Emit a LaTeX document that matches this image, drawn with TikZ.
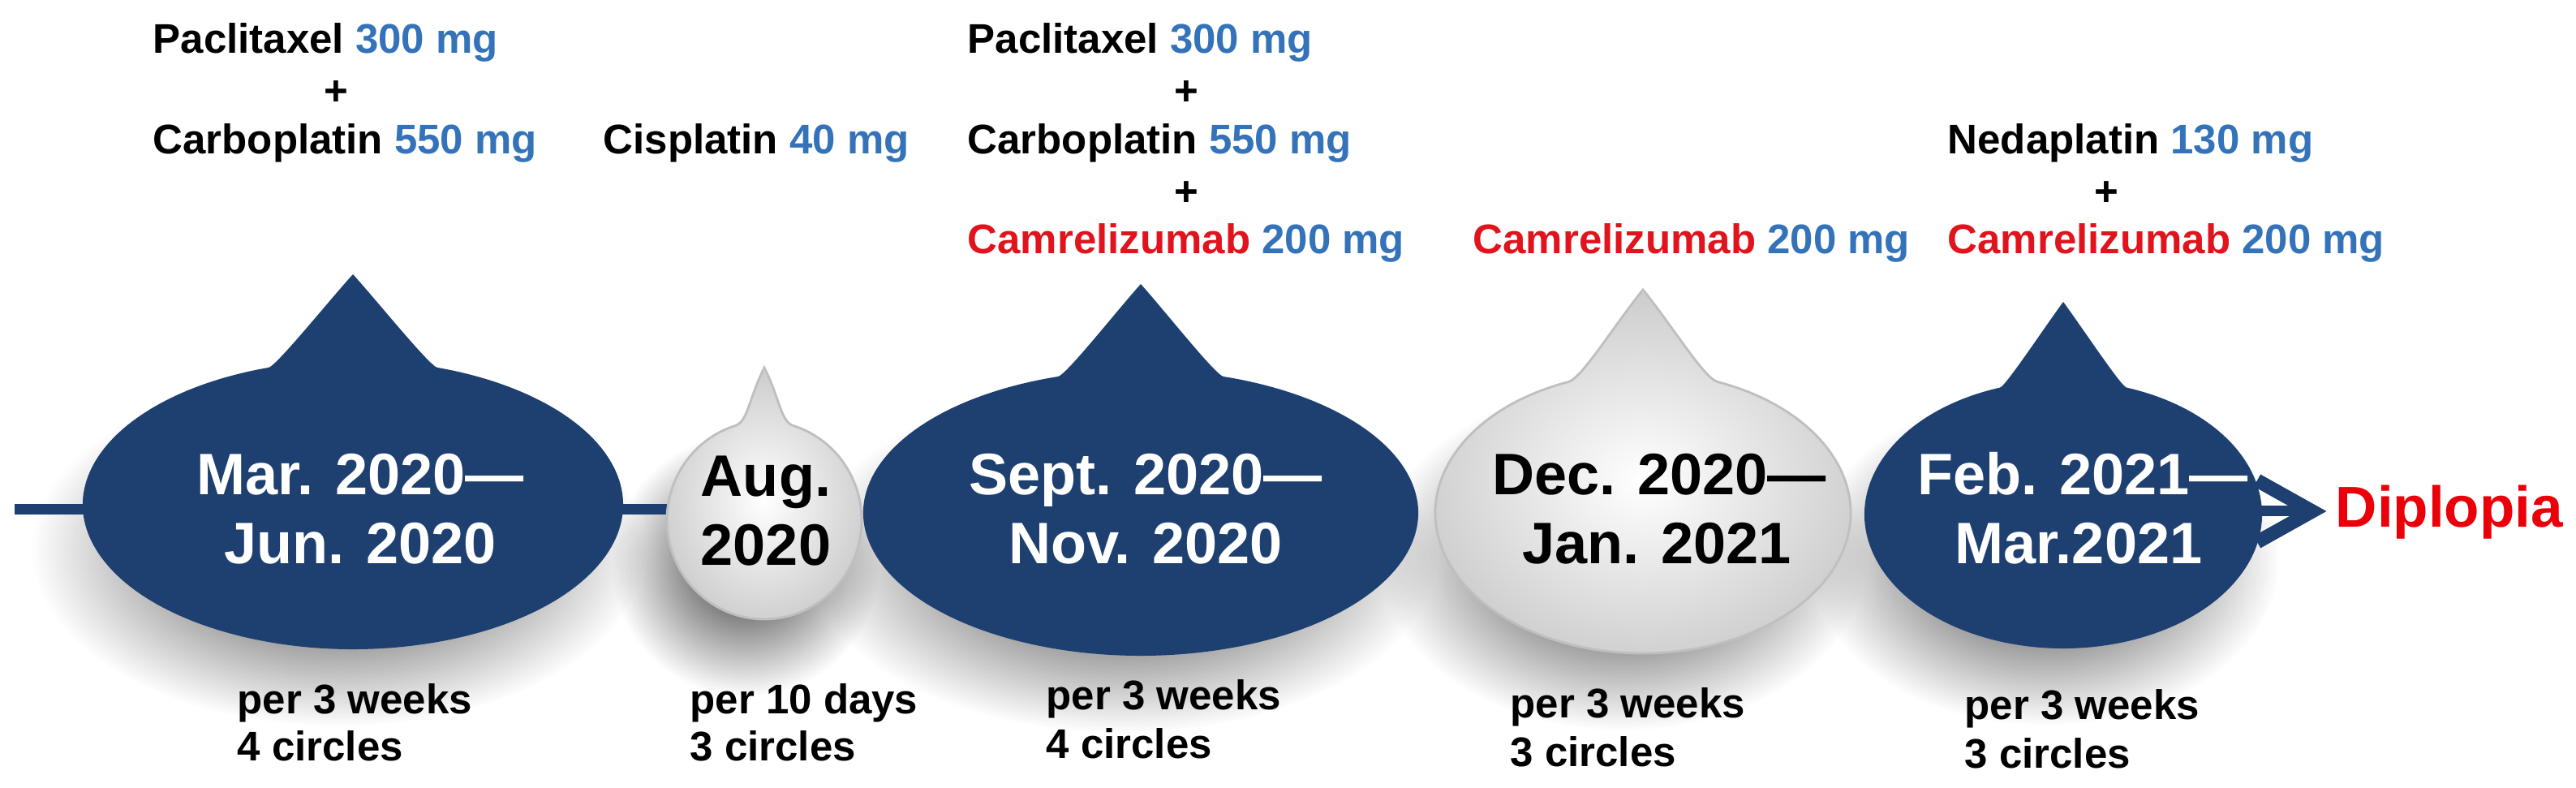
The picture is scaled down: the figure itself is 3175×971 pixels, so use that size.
\documentclass[tikz,border=0pt]{standalone}
\usepackage{fontspec}
\setmainfont{Liberation Sans}
\usetikzlibrary{fadings}
\definecolor{navy}{RGB}{30,64,112}
\definecolor{numblue}{RGB}{52,115,185}
\definecolor{drugred}{RGB}{225,20,30}
\definecolor{diplred}{RGB}{235,0,10}
\tikzfading[name=shadowfade, inner color=transparent!0, outer color=transparent!100]
% cx cy rx ry tipx tipy neck-half-width fillet straightness
\newcommand{\mkdrop}[9]{%
 \pgfmathsetmacro{\dA}{acos(#7/#3)}%
 \pgfmathsetmacro{\dJy}{#2-#4*sin(\dA)}%
 \pgfmathsetmacro{\dJl}{#5-#7}%
 \pgfmathsetmacro{\dJr}{#5+#7}%
 \pgfmathsetmacro{\dTl}{\dJl+#8*#3*sin(\dA)}%
 \pgfmathsetmacro{\dTr}{\dJr-#8*#3*sin(\dA)}%
 \pgfmathsetmacro{\dTy}{\dJy-#8*#4*cos(\dA)}%
 \pgfmathsetmacro{\dCl}{#5+#9*(\dJl-#5)}%
 \pgfmathsetmacro{\dCr}{#5+#9*(\dJr-#5)}%
 \pgfmathsetmacro{\dCy}{#6+#9*(\dJy-#6)}%
 \pgfmathsetmacro{\dSa}{180+\dA}%
 \pgfmathsetmacro{\dEa}{-\dA}%
 \pgfmathsetmacro{\dRa}{#3-(#5-#1)}%
 \edef\dPath{(#5,#6) .. controls (\dCl,\dCy) and (\dTl,\dTy) .. (\dJl,\dJy) arc[start angle=\dSa, end angle=\dEa, x radius=#3, y radius=#4] .. controls (\dTr,\dTy) and (\dCr,\dCy) .. (#5,#6) -- cycle}%
}
\tikzset{
 navydrop/.style={fill=navy},
 lightdrop/.style={inner color=white, outer color=black!20, draw=black!25, line width=0.8pt},
 lbl/.style={inner sep=0pt, anchor=base west, font=\fontsize{14.5}{17}\selectfont\bfseries},
 plus/.style={inner sep=0pt, anchor=base, font=\fontsize{14.5}{17}\selectfont\bfseries},
 datew/.style={inner sep=0pt, anchor=base, text=white, font=\fontsize{20.5}{24}\selectfont\bfseries},
 dateb/.style={inner sep=0pt, anchor=base, text=black, font=\fontsize{20.5}{24}\selectfont\bfseries},
 diplo/.style={inner sep=0pt, anchor=base west, text=diplred, font=\fontsize{20.2}{24}\selectfont\bfseries},
 shadowblob/.style={fill=black!80, path fading=shadowfade}
}
\newcommand{\bl}[1]{\textcolor{numblue}{#1}}
\newcommand{\rd}[1]{\textcolor{drugred}{#1}}
\begin{document}
\begin{tikzpicture}[x=0.01cm, y=-0.01cm]
\useasboundingbox (0,0) rectangle (3175,971);
% soft shadows
\foreach \cx/\cy/\rx/\ry in {442/622/333/178, 944/641/120/122, 1408/632/342/176, 2025/632/256/173, 2545/634/245/165}
 \path[shadowblob] (\cx-25,\cy+55) ellipse [x radius=\rx+45, y radius=\ry+40];
% timeline
\coordinate (tlstart) at (18,628);
\coordinate (tlmid) at (944,628);
\coordinate (tlresume) at (2600,630);
\coordinate (tlend) at (2850,630);
\coordinate (arU) at (2782,592);
\coordinate (arD) at (2782,668);
\draw[navy, line width=0.13cm] (tlstart) -- (tlmid);
\draw[navy, line width=0.13cm] (tlresume) -- (tlend);
\draw[navy, line width=0.17cm, miter limit=10] (arU) -- (tlend) -- (arD);
% drops
\mkdrop{442}{622}{333}{178}{435}{338}{104}{0.03}{0.3}
\path[navydrop] \dPath;
\mkdrop{944}{641}{120}{122}{942}{453}{36}{0.14}{0.55}
\shade[lightdrop] \dPath;
\mkdrop{1408}{632}{342}{176}{1406}{350}{102}{0.03}{0.3}
\path[navydrop] \dPath;
\mkdrop{2025}{632}{256}{173}{2025}{357}{92}{0.07}{0.4}
\shade[lightdrop] \dPath;
\mkdrop{2545}{634}{245}{165}{2543}{372}{78}{0.03}{0.3}
\path[navydrop] \dPath;
% dates
\node[datew] (d1a) at (444,610) {Mar. 2020—};
\node[datew] (d1b) at (444,695) {Jun. 2020};
\node[dateb] (d2a) at (944,612) {Aug.};
\node[dateb] (d2b) at (944,697) {2020};
\node[datew] (d3a) at (1412,610) {Sept. 2020—};
\node[datew] (d3b) at (1412,695) {Nov. 2020};
\node[dateb] (d4a) at (2045,610) {Dec. 2020—};
\node[dateb] (d4b) at (2042,695) {Jan. 2021};
\node[datew] (d5a) at (2567,610) {Feb. 2021—};
\node[datew] (d5b) at (2562,695) {Mar.2021};
\node[diplo] (dipl) at (2878,650) {Diplopia};
% drugs
\node[lbl] (t1a) at (188,66) {Paclitaxel \bl{300 mg}};
\node[plus] (t1p) at (414,130) {+};
\node[lbl] (t1b) at (188,190) {Carboplatin \bl{550 mg}};
\node[lbl] (t2a) at (743,190) {Cisplatin \bl{40 mg}};
\node[lbl] (t3a) at (1192,66) {Paclitaxel \bl{300 mg}};
\node[plus] (t3p) at (1462,130) {+};
\node[lbl] (t3b) at (1192,190) {Carboplatin \bl{550 mg}};
\node[plus] (t3q) at (1462,254) {+};
\node[lbl] (t3c) at (1192,313) {\rd{Camrelizumab} \bl{200 mg}};
\node[lbl] (t4a) at (1815,313) {\rd{Camrelizumab} \bl{200 mg}};
\node[lbl] (t5a) at (2400,190) {Nedaplatin \bl{130 mg}};
\node[plus] (t5p) at (2596,254) {+};
\node[lbl] (t5b) at (2400,313) {\rd{Camrelizumab} \bl{200 mg}};
% schedules
\node[lbl] (b1a) at (292,880) {per 3 weeks};
\node[lbl] (b1b) at (292,938) {4 circles};
\node[lbl] (b2a) at (850,880) {per 10 days};
\node[lbl] (b2b) at (850,938) {3 circles};
\node[lbl] (b3a) at (1289,875) {per 3 weeks};
\node[lbl] (b3b) at (1289,935) {4 circles};
\node[lbl] (b4a) at (1861,885) {per 3 weeks};
\node[lbl] (b4b) at (1861,945) {3 circles};
\node[lbl] (b5a) at (2421,887) {per 3 weeks};
\node[lbl] (b5b) at (2421,947) {3 circles};
\end{tikzpicture}
\end{document}
